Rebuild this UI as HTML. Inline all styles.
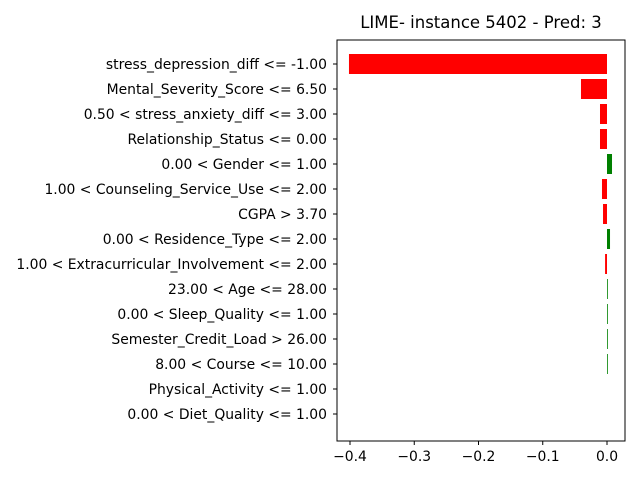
<!DOCTYPE html>
<html><head><meta charset="utf-8"><style>
body{margin:0;background:#fff}
svg text{font-family:"DejaVu Sans","Liberation Sans",sans-serif}
</style></head><body>
<svg id="chart" width="640" height="480" xmlns="http://www.w3.org/2000/svg">
<text x="481" y="28" text-anchor="middle" font-size="16.5">LIME- instance 5402 - Pred: 3</text>
<g id="bars"></g><g id="yt"></g><g id="xt"></g>
<rect x="337" y="40" width="288" height="401" fill="none" stroke="#000" stroke-width="1"/>
</svg>
<script>
const features=["stress_depression_diff <= -1.00","Mental_Severity_Score <= 6.50","0.50 < stress_anxiety_diff <= 3.00","Relationship_Status <= 0.00","0.00 < Gender <= 1.00","1.00 < Counseling_Service_Use <= 2.00","CGPA > 3.70","0.00 < Residence_Type <= 2.00","1.00 < Extracurricular_Involvement <= 2.00","23.00 < Age <= 28.00","0.00 < Sleep_Quality <= 1.00","Semester_Credit_Load > 26.00","8.00 < Course <= 10.00","Physical_Activity <= 1.00","0.00 < Diet_Quality <= 1.00"];
const weights=[-0.4016,-0.0405,-0.0109,-0.0109,0.0078,-0.0078,-0.0062,0.0047,-0.003,0.0005,0.0005,0.0005,0.0005,0,0];
const xTicks=[-0.4,-0.3,-0.2,-0.1,0.0];
const xTickLabels=["\u22120.4","\u22120.3","\u22120.2","\u22120.1","0.0"];
const NS="http://www.w3.org/2000/svg";
const x=v=>607+v*642.5;
const y=i=>64+i*25;
const bars=document.getElementById('bars'),yt=document.getElementById('yt'),xt=document.getElementById('xt');
features.forEach((f,i)=>{
  const w=weights[i];
  const r=document.createElementNS(NS,'rect');
  
  
  const a=Math.min(x(0),x(w)),b=Math.max(x(0),x(w));
  r.setAttribute('x',a);r.setAttribute('width',Math.max(b-a,w!==0?0.8:0));
  r.setAttribute('y',y(i)-10);r.setAttribute('height',20);
  r.setAttribute('fill',w>0?'#008000':'#ff0000');
  bars.appendChild(r);
  const l=document.createElementNS(NS,'line');
  
  
  l.setAttribute('x1',333);l.setAttribute('x2',337);l.setAttribute('y1',y(i));l.setAttribute('y2',y(i));l.setAttribute('stroke','#000');
  yt.appendChild(l);
  const t=document.createElementNS(NS,'text');
  
  
  t.setAttribute('x',327);t.setAttribute('y',y(i)+5);t.setAttribute('text-anchor','end');t.setAttribute('font-size','13.9');
  t.textContent=f;yt.appendChild(t);
});
xTicks.forEach((v,i)=>{
  const l=document.createElementNS(NS,'line');
  
  
  l.setAttribute('x1',x(v));l.setAttribute('x2',x(v));l.setAttribute('y1',441);l.setAttribute('y2',445);l.setAttribute('stroke','#000');
  xt.appendChild(l);
  const t=document.createElementNS(NS,'text');
  
  
  t.setAttribute('x',x(v));t.setAttribute('y',461);t.setAttribute('text-anchor','middle');t.setAttribute('font-size','13.9');
  t.textContent=xTickLabels[i];xt.appendChild(t);
});
</script>
</body></html>
